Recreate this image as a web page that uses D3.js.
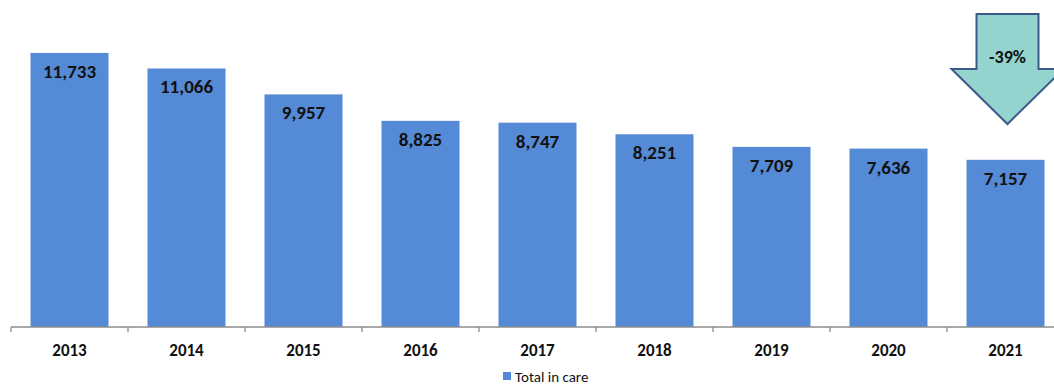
<!DOCTYPE html>
<html>
<head>
<meta charset="utf-8">
<script src="https://cdn.jsdelivr.net/npm/d3@7"></script>
<style>
  html, body { margin: 0; padding: 0; background: #fff; overflow: hidden; }
  svg { display: block; font-family: Carlito, Lato, "Open Sans", sans-serif; }
</style>
</head>
<body>
<svg id="chart"></svg>
<script>
// Data
const years = ['2013', '2014', '2015', '2016', '2017', '2018', '2019', '2020', '2021'];
const totalInCare = [11733, 11066, 9957, 8825, 8747, 8251, 7709, 7636, 7157];
const seriesName = 'Total in care';
const changeLabel = '-39%';

const width = 1054;
const height = 386;
const baseline = 327;

const svg = d3.select('#chart')
  .attr('width', width)
  .attr('height', height)
  .attr('viewBox', `0 0 ${width} ${height}`);

const barColor = '#558ad6';

// x: nine bands of ~117px, last one cut by the right edge
const x = d3.scaleBand()
  .domain(years)
  .range([11, 11 + 117 * years.length])
  .paddingInner(1 / 3)
  .paddingOuter(1 / 6);

const y = d3.scaleLinear()
  .domain([0, 14000])
  .range([baseline, baseline - 14000 * 0.02336]);

const rows = years.map((yr, i) => ({ year: yr, value: totalInCare[i] }));

// Bars
svg.append('g')
  .selectAll('rect')
  .data(rows)
  .join('rect')
  .attr('x', d => x(d.year))
  .attr('y', d => y(d.value))
  .attr('width', x.bandwidth())
  .attr('height', d => y(0) - y(d.value))
  .attr('fill', barColor);

// Value labels inside bars
svg.append('g')
  .selectAll('text')
  .data(rows)
  .join('text')
  .attr('x', d => x(d.year) + x.bandwidth() / 2)
  .attr('y', d => y(d.value) + 25)
  .attr('text-anchor', 'middle')
  .attr('font-size', '19px')
  .attr('font-weight', '700')
  .attr('fill', '#111')
  .text(d => d3.format(',')(d.value));

// X axis: baseline with ticks between categories
const axis = svg.append('g');
axis.append('line')
  .attr('x1', 11).attr('x2', width)
  .attr('y1', baseline).attr('y2', baseline)
  .attr('stroke', '#8c8c8c')
  .attr('stroke-width', 1.3);

const step = x.step();
axis.selectAll('line.tick')
  .data(d3.range(years.length + 1))
  .join('line')
  .attr('class', 'tick')
  .attr('x1', i => 11 + i * step).attr('x2', i => 11 + i * step)
  .attr('y1', baseline).attr('y2', baseline + 5)
  .attr('stroke', '#8c8c8c')
  .attr('stroke-width', 1.3);

axis.selectAll('text')
  .data(years)
  .join('text')
  .attr('x', d => x(d) + x.bandwidth() / 2)
  .attr('y', 356)
  .attr('text-anchor', 'middle')
  .attr('font-size', '17px')
  .attr('font-weight', '700')
  .attr('fill', '#111')
  .text(d => d);

// Legend
const legend = svg.append('g');
legend.append('rect')
  .attr('x', 503).attr('y', 372)
  .attr('width', 8).attr('height', 8)
  .attr('fill', barColor);
legend.append('text')
  .attr('x', 515).attr('y', 382)
  .attr('font-size', '15px')
  .attr('fill', '#111')
  .text(seriesName);

// Down arrow over the last bar
const cx = x(years[years.length - 1]) + x.bandwidth() / 2 + 2;
const arrow = d3.path();
arrow.moveTo(cx - 31, 14);
arrow.lineTo(cx + 31, 14);
arrow.lineTo(cx + 31, 69);
arrow.lineTo(cx + 56, 69);
arrow.lineTo(cx, 124);
arrow.lineTo(cx - 56, 69);
arrow.lineTo(cx - 31, 69);
arrow.closePath();

svg.append('path')
  .attr('d', arrow.toString())
  .attr('fill', '#93d4cf')
  .attr('stroke', '#3b5a8a')
  .attr('stroke-width', 2)
  .attr('stroke-linejoin', 'miter');

svg.append('text')
  .attr('x', cx)
  .attr('y', 63)
  .attr('text-anchor', 'middle')
  .attr('font-size', '18px')
  .attr('font-weight', '700')
  .attr('fill', '#111')
  .text(changeLabel);
</script>
</body>
</html>
